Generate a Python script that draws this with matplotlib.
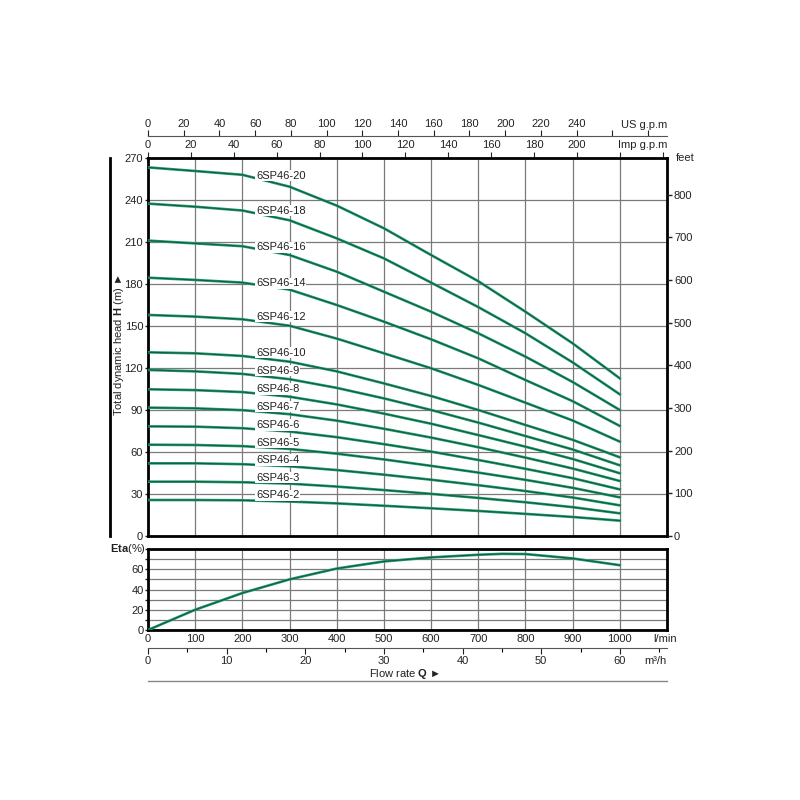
import matplotlib
matplotlib.use("Agg")
import matplotlib.pyplot as plt
from matplotlib.lines import Line2D
from matplotlib.ticker import FixedLocator, FuncFormatter

plt.rcParams["font.family"] = ["Liberation Sans", "DejaVu Sans"]
plt.rcParams["font.size"] = 8
plt.rcParams["mathtext.fontset"] = "custom"
plt.rcParams["mathtext.rm"] = "Liberation Sans"
plt.rcParams["mathtext.bf"] = "Liberation Sans:bold"

# flow rate in l/min
flow = [0, 100, 200, 300, 400, 500, 600, 700, 800, 900, 1000]

models = ["6SP46-20", "6SP46-18", "6SP46-16", "6SP46-14", "6SP46-12",
          "6SP46-10", "6SP46-9", "6SP46-8", "6SP46-7", "6SP46-6",
          "6SP46-5", "6SP46-4", "6SP46-3", "6SP46-2"]

# head in m
h20 = [263.3, 260.7, 258.0, 249.5, 236.0, 219.8, 200.7, 182.0, 160.2, 137.6, 112.6]
h18 = [237.4, 235.2, 232.5, 225.5, 212.6, 198.3, 181.0, 163.5, 144.8, 124.0, 101.2]
h16 = [211.0, 209.0, 207.0, 200.7, 188.8, 174.5, 160.2, 144.8, 128.1, 110.0, 90.0]
h14 = [184.5, 182.9, 181.0, 176.0, 165.0, 153.1, 140.5, 126.9, 111.4, 96.3, 78.6]
h12 = [157.9, 156.7, 154.8, 150.2, 141.0, 130.5, 119.8, 107.9, 95.2, 82.5, 67.4]
h10 = [131.2, 130.5, 128.6, 124.5, 117.6, 109.0, 100.0, 90.0, 79.3, 68.7, 56.2]
h9 = [118.6, 117.6, 115.8, 112.0, 105.8, 98.3, 90.0, 81.0, 71.4, 61.8, 50.5]
h8 = [104.8, 104.2, 102.8, 99.5, 94.0, 87.4, 80.2, 72.1, 63.8, 55.0, 44.8]
h7 = [91.7, 91.2, 89.9, 87.0, 82.4, 76.6, 70.3, 63.4, 56.0, 48.2, 39.3]
h6 = [78.3, 78.1, 77.0, 74.6, 70.6, 65.6, 60.3, 54.3, 48.0, 41.3, 33.3]
h5 = [65.2, 65.0, 64.2, 62.2, 58.8, 54.7, 50.1, 45.3, 40.1, 34.4, 27.6]
h4 = [51.9, 51.9, 51.3, 49.8, 47.1, 43.8, 40.2, 36.3, 32.1, 27.5, 21.9]
h3 = [38.8, 38.8, 38.4, 37.4, 35.3, 32.8, 30.1, 27.2, 24.1, 20.6, 16.2]
h2 = [25.7, 25.7, 25.5, 24.6, 23.3, 21.6, 19.8, 17.9, 15.8, 13.6, 10.95]
heads = [h20, h18, h16, h14, h12, h10, h9, h8, h7, h6, h5, h4, h3, h2]

# efficiency curve
eta_flow = [0, 100, 200, 300, 400, 500, 600, 700, 750, 800, 900, 1000]
eta = [0, 20.0, 36.5, 50.0, 60.7, 67.7, 71.7, 74.3, 75.2, 75.0, 70.7, 64.0]

# where the model names sit (layout)
label_x = 229
label_y = [257.4, 232.4, 206.2, 180.5, 156.7, 131.0, 118.1, 105.0, 92.4,
           79.3, 66.6, 54.3, 41.6, 29.1]

TXT = "#222222"
GRID = "#7a7a7a"
W, H = 800, 800


def fx(px):
    return px / W


def fy(py):
    return 1 - py / H


fig = plt.figure(figsize=(8, 8), dpi=100)
ax = fig.add_axes([fx(148), fy(536), (667 - 148) / W, (536 - 158) / H])
ax_eta = fig.add_axes([fx(148), fy(630), (667 - 148) / W, (630 - 549) / H])

# ---- head chart
for name, h, ly in zip(models, heads, label_y):
    ax.plot(flow, h, color="#20a06a", lw=1.9, solid_joinstyle="round", zorder=3)
    ax.plot(flow, h, color="#145a45", lw=0.8, solid_joinstyle="round", zorder=3)
    ax.text(label_x, ly, name, ha="left", va="center", fontsize=8, color=TXT,
            bbox=dict(fc="white", ec="none", pad=0.4), zorder=5)

ax.set_xlim(0, 1100)
ax.set_ylim(0, 270)
ax.set_xticks(range(100, 1001, 100))
ax.set_yticks(range(0, 271, 30))
ax.tick_params(axis="x", length=0, labelbottom=False)
ax.tick_params(axis="y", length=2.5, width=1, pad=1, colors=TXT, labelsize=8)
ax.grid(True, color=GRID, lw=0.9)
for s in ax.spines.values():
    s.set_linewidth(2)
    s.set_color("black")

ax_ft = ax.twinx()
ax_ft.set_ylim(0, 270 * 3.28084)
ax_ft.set_yticks(range(0, 801, 100))
ax_ft.tick_params(axis="y", length=3.5, width=1, pad=1.5, colors=TXT, labelsize=8)
for s in ax_ft.spines.values():
    s.set_visible(False)
fig.text(fx(676), fy(158), "feet", ha="left", va="center", fontsize=8, color=TXT)

# top axes: Imp g.p.m on the spine, US g.p.m above
imp = ax.secondary_xaxis("top", functions=(lambda q: q * 0.219969, lambda g: g / 0.219969))
imp.xaxis.set_major_locator(FixedLocator(range(0, 241, 20)))
imp.xaxis.set_major_formatter(FuncFormatter(lambda v, p: "%d" % v if v <= 200 else ""))
imp.tick_params(length=4, width=0.8, pad=1.5, colors=TXT, labelsize=8)
imp.spines["top"].set_visible(False)

us = ax.secondary_xaxis(1 + 21.5 / 378, functions=(lambda q: q * 0.264172, lambda g: g / 0.264172))
us.xaxis.set_major_locator(FixedLocator(range(0, 281, 20)))
us.xaxis.set_major_formatter(FuncFormatter(lambda v, p: "%d" % v if v <= 240 else ""))
us.tick_params(length=4, width=0.8, pad=1.5, colors=TXT, labelsize=8)
us.spines["top"].set_linewidth(0.8)
us.spines["top"].set_color("#555555")

fig.text(fx(667), fy(125), "US g.p.m", ha="right", va="center", fontsize=8, color=TXT)
fig.text(fx(667), fy(145), "Imp g.p.m", ha="right", va="center", fontsize=8, color=TXT)

# ---- efficiency chart
ax_eta.plot(eta_flow, eta, color="#20a06a", lw=1.9, solid_joinstyle="round", zorder=3)
ax_eta.plot(eta_flow, eta, color="#145a45", lw=0.8, solid_joinstyle="round", zorder=3)
ax_eta.set_xlim(0, 1100)
ax_eta.set_ylim(0, 80)
ax_eta.set_xticks(range(0, 1001, 100))
ax_eta.set_yticks(range(0, 81, 10))
ax_eta.yaxis.set_major_formatter(FuncFormatter(lambda v, p: "%d" % v if v % 20 == 0 and v <= 60 else ""))
ax_eta.tick_params(axis="x", length=0, pad=3, colors=TXT, labelsize=8)
ax_eta.tick_params(axis="y", length=2, width=1, pad=1, colors=TXT, labelsize=8)
ax_eta.grid(True, color=GRID, lw=0.9)
for s in ax_eta.spines.values():
    s.set_linewidth(2)
    s.set_color("black")
fig.text(fx(665), fy(639), "l/min", ha="center", va="center", fontsize=8, color=TXT)

m3h = ax_eta.secondary_xaxis(-18 / 81, functions=(lambda q: q / 16.6667, lambda m: m * 16.6667))
m3h.xaxis.set_major_locator(FixedLocator(range(0, 61, 10)))
m3h.xaxis.set_minor_locator(FixedLocator(range(5, 66, 10)))
m3h.tick_params(which="major", length=4, width=0.8, pad=2, colors=TXT, labelsize=8)
m3h.tick_params(which="minor", length=3, width=0.8)
m3h.spines["bottom"].set_linewidth(0.8)
m3h.spines["bottom"].set_color("#555555")
fig.text(fx(667), fy(661), "m³/h", ha="right", va="center", fontsize=8, color=TXT)

# ---- labels and decoration
fig.text(fx(119), fy(345), r"Total dynamic head $\mathbf{H}$ (m) ►", rotation=90,
         ha="center", va="center", fontsize=8, color=TXT)
fig.add_artist(Line2D([fx(110), fx(110)], [fy(158), fy(536)], color="black", lw=2))
fig.text(fx(146), fy(549), r"$\mathbf{Eta}$(%)", ha="right", va="center", fontsize=8, color=TXT)
fig.text(fx(405), fy(674), r"Flow rate $\mathbf{Q}$ ►", ha="center", va="center", fontsize=8, color=TXT)
fig.add_artist(Line2D([fx(148), fx(667)], [fy(681), fy(681)], color="#888888", lw=1))

fig.savefig("out.png", dpi=100, facecolor="white")
